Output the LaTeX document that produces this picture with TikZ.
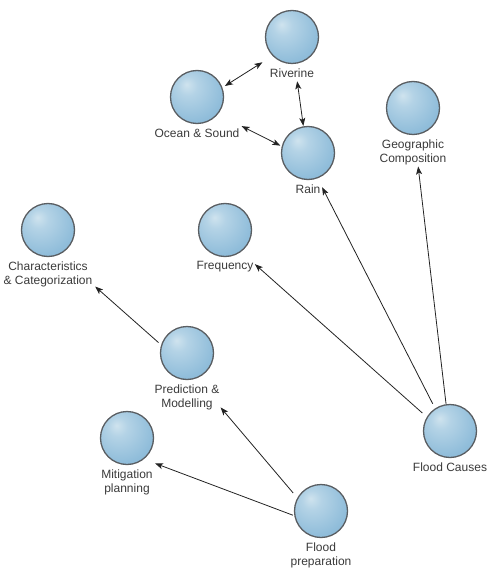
\documentclass[tikz,border=0pt]{standalone}
\usepackage{fontspec}
\setmainfont{Liberation Sans}
\usetikzlibrary{arrows.meta,fit}

\definecolor{sphHl}{HTML}{CFE3EE}
\definecolor{sphHlb}{HTML}{B4D3E6}
\definecolor{sphMid}{HTML}{90BDDA}
\definecolor{sphRim}{HTML}{78AACD}
\definecolor{sphEdge}{HTML}{6595BC}
\definecolor{ballline}{HTML}{5A5E62}
\definecolor{txt}{HTML}{3A3A3A}
\definecolor{linkcol}{HTML}{222222}

% soft blue sphere with a highlight at the upper left
\pgfdeclareradialshading{sphere}{\pgfpoint{-10bp}{12bp}}{%
  color(0bp)=(sphHl);
  color(9bp)=(sphHlb);
  color(30bp)=(sphMid);
  color(55bp)=(sphRim);
  color(72bp)=(sphEdge)}

\tikzset{
  ball/.style={circle, minimum size=53pt, inner sep=0pt, draw=ballline,
    line width=1.3pt, shade, shading=sphere},
  caption/.style={anchor=north, inner sep=0pt, align=center, text=txt,
    font=\fontsize{12}{14}\selectfont},
  group/.style={inner sep=0pt, draw=none},
  link/.style={draw=linkcol, line width=0.8pt,
    -{Stealth[length=8pt,width=6pt,inset=2pt]}},
  twoway/.style={link, {Stealth[length=8pt,width=6pt,inset=2pt]}-{Stealth[length=8pt,width=6pt,inset=2pt]}}
}

% a topic: sphere, caption under it, and a group node around both
\newcommand{\topic}[3]{%
  \node[ball] (#1ball) at (#2) {};
  \node[caption] (#1text) at ([yshift=-4pt]#1ball.south) {#3};
  \node[group, fit=(#1ball)(#1text)] (#1) {};
}

\begin{document}
\begin{tikzpicture}[x=1pt, y=-1pt]
  \useasboundingbox (0,0) rectangle (490,569);

  \topic{riverine}{292,37}{Riverine}
  \topic{ocean}{197,97}{Ocean \& Sound}
  \topic{rain}{308,153}{Rain}
  \topic{geo}{413,108}{Geographic\\Composition}
  \topic{charac}{48,230}{Characteristics\\\& Categorization}
  \topic{freq}{225,230}{Frequency}
  \topic{pred}{187,353}{Prediction \&\\Modelling}
  \topic{mitig}{127,438}{Mitigation\\planning}
  \topic{causes}{450,431}{Flood Causes}
  \topic{prep}{321,511}{Flood\\preparation}

  % links between the water sources
  \draw[twoway, shorten <=33pt, shorten >=35pt] (ocean.center) -- (riverine.center);
  \draw[twoway, shorten <=38pt, shorten >=34pt] (riverine.center) -- (rain.center);
  \draw[twoway, shorten <=50pt, shorten >=31pt] (ocean.center) -- (rain.center);

  % flood causes
  \draw[link, shorten <=38pt, shorten >=31pt] (causes.center) -- (rain.center);
  \draw[link, shorten <=37pt, shorten >=40pt] (causes.center) -- (freq.center);
  \draw[link, shorten <=34pt, shorten >=44pt] (causes.center) -- (geo.center);

  % preparation
  \draw[link, shorten <=38pt, shorten >=63pt] (pred.center) -- (charac.center);
  \draw[link, shorten <=43pt, shorten >=52pt] (prep.center) -- (pred.center);
  \draw[link, shorten <=30pt, shorten >=30pt] (prep.center) -- (mitig.center);
\end{tikzpicture}
\end{document}
